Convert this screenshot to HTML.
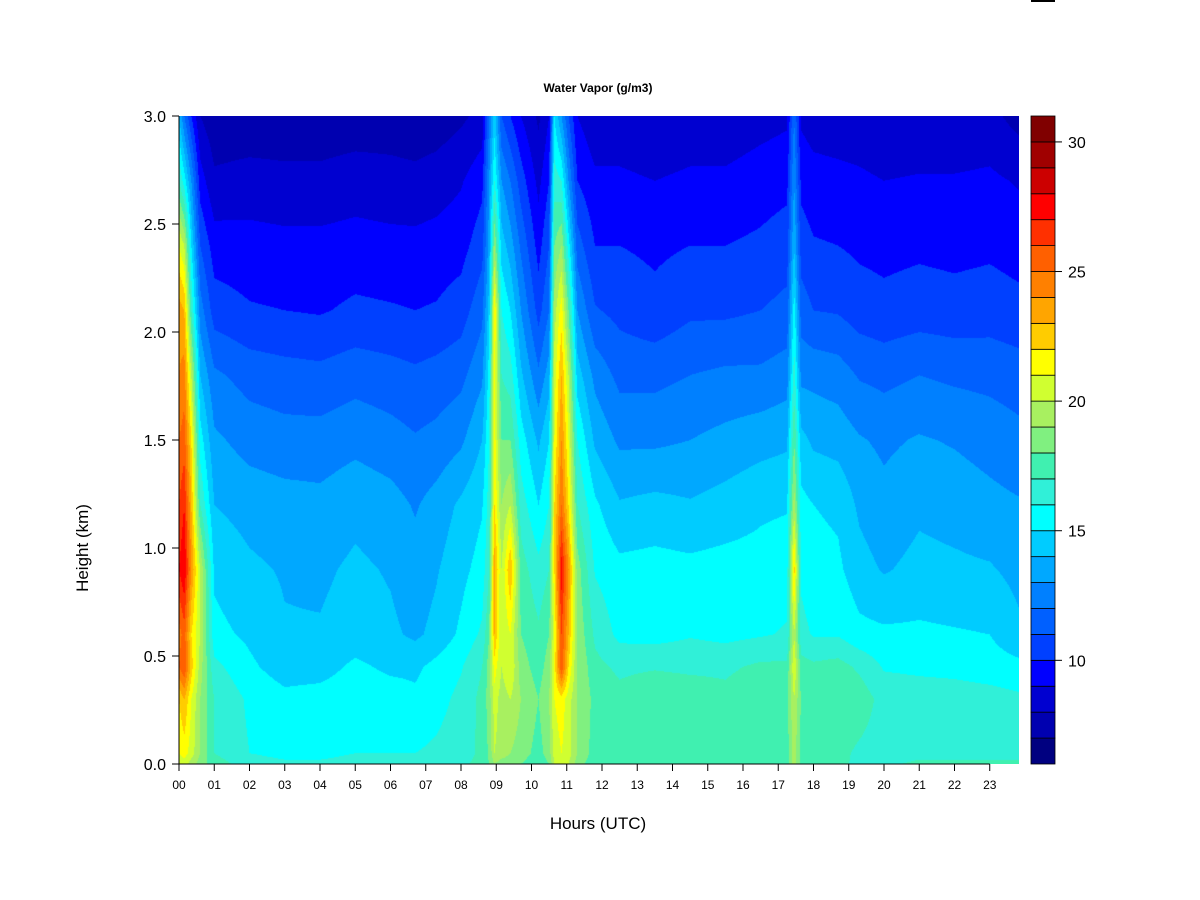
<!DOCTYPE html>
<html><head><meta charset="utf-8"><style>
body{margin:0;background:#fff;}
#wrap{position:relative;width:1200px;height:900px;overflow:hidden;font-family:"Liberation Sans",sans-serif;}
#heat{position:absolute;left:179px;top:116px;}
svg{position:absolute;left:0;top:0;}
</style></head><body>
<div id="wrap">
<canvas id="heat" width="840" height="648"></canvas>
<svg id="ov" width="1200" height="900">
<rect x="1031" y="0" width="24" height="2" fill="#000"/>
<text x="598" y="92" text-anchor="middle" font-size="12" font-weight="bold">Water Vapor (g/m3)</text>
<text x="598" y="829" text-anchor="middle" font-size="17">Hours (UTC)</text>
<text transform="translate(88,548) rotate(-90)" text-anchor="middle" font-size="17">Height (km)</text>
<g id="axes"></g>
</svg>
</div>
<script>
const heights = [0, 0.05, 0.3, 0.45, 0.6, 0.9, 1.2, 1.5, 1.8, 2.1, 2.4, 2.7, 3.0];
const times = [0,0.15,0.35,0.6,1,2,3,4,5,6,6.7,7.3,8,8.6,8.8,8.95,9.15,9.4,9.7,10.2,10.5,10.65,10.85,11.05,11.3,11.8,12.5,13.5,14.5,15.5,16.5,17.25,17.45,17.65,18,18.7,19.3,20,21,22,23,23.83];
const vapor = [
[20,21,22,25,24.5,27,26,25,24,23.5,21,17,14],
[20.5,21.5,23,26,25.5,28,27,25.5,24.5,23,20,15.5,12],
[19.5,20.5,21,22.5,22,24,23,22,20,17,15,13,10],
[18.5,19,19,19.5,20,20,17,15.5,14,12.5,11,9.5,8],
[17.5,17,17,16.3,15.3,14.8,14,13.2,12.2,10.5,9.5,8.2,7.3],
[16.5,16,15.8,15.2,14.8,14.2,13.6,12.6,11.6,10.1,9.4,8.4,7.3],
[16.2,15.7,15.3,14.5,14.1,13.9,13.4,12.4,11.4,10,9.3,8.3,7.3],
[16.2,15.7,15.4,14.6,14.1,13.8,13.3,12.4,11.3,9.9,9.3,8.3,7.3],
[16.4,16,15.6,15.2,14.5,14.2,13.7,12.7,11.6,10.2,9.4,8.5,7.4],
[16.4,16,15.5,14.8,14.2,13.9,13.4,12.4,11.4,10.1,9.3,8.4,7.4],
[16.2,16,15.2,14.8,13.8,13.4,12.9,12.1,11.2,10,9.3,8.3,7.3],
[16.4,16.2,15.6,15.3,14.3,13.9,13.4,12.3,11.4,10.1,9.4,8.5,7.4],
[16.8,16.6,16.3,15.9,15.2,14.7,14.2,12.8,11.7,10.5,9.6,8.9,7.8],
[17.3,17.2,17.3,17,16.2,15.4,14.9,14,12.8,11.7,10.6,9.7,8.3],
[18,18.2,18.5,18.5,18,17,16.5,16,15.5,14.5,13.5,13,12],
[19,20,20.5,21.5,23,23.5,22,21.5,21.5,22,19,16,14.5],
[18.5,19.5,19.5,20,20,20,19,18,17,16,14.5,13,11],
[18.5,19,20,21,21,23,20,18,16.5,15,13.5,12,10],
[18,18.5,19,18.5,18,17.5,16.5,15.5,14.2,13,11.8,10.5,9],
[17.3,17.6,18,17.5,17.2,16.3,15,13.8,12.2,10.6,9.6,8.7,7.8],
[18,18.5,19,18.5,18,17,16,15,13.5,12,11,10,9],
[20,20.5,21,21.5,21,22,22,21,20.5,19.5,18,16.5,15],
[20.5,21,21.5,26,26,27.5,25,24,23,21.5,19,16,13],
[20,20.5,20.5,22,23,24,22,21,20,18,15.5,13,11],
[18.5,19,19,19,18.8,18.5,17,16,14.5,13,11.5,10,9],
[17.3,17.5,17.7,17.3,16.8,15.9,15.2,13.8,12.7,11.1,10,9.2,8.3],
[17,17,17.3,16.8,15.7,15.3,14.1,12.8,11.7,10.7,10,9.2,8.3],
[17.1,17.3,17.8,16.9,15.6,15.4,14.3,12.8,11.7,10.3,9.8,9,8.1],
[17.1,17.2,17.6,16.8,15.9,15.3,14.1,13,12,10.8,10,9.2,8.3],
[17.2,17.2,17.3,16.8,15.7,15.4,14.4,13.3,12.2,10.8,10,9.2,8.3],
[17.6,17.6,17.8,17.2,15.9,15.4,14.8,13.6,12.2,11,10.2,9.5,8.6],
[17.5,17.5,17.7,17.2,16.1,15.6,14.9,13.8,12.5,11.3,10.5,9.7,8.8],
[19.5,19.5,20,21,20,22.5,19.5,18,16.5,15.5,14,13,12],
[17.6,17.6,17.9,17.4,16.3,15.8,15.3,14.3,12.7,11.5,10.5,9.7,8.8],
[17.2,17.2,17.5,17.2,15.9,15.4,15,13.8,12.7,11,10.1,9.4,8.5],
[17.2,17.3,17.9,17.4,15.9,15.2,14.8,13.6,12.5,10.9,10,9.3,8.4],
[16.8,16.8,17.6,16.8,15.3,14.4,13.8,13.1,11.9,10.5,9.8,9.2,8.3],
[16.8,16.5,16.6,15.9,15.2,13.9,13.3,12.8,11.7,10.3,9.7,9,8.1],
[17.2,16.7,16.5,15.8,15.2,14.3,13.8,13.1,12,10.5,9.8,9.1,8.2],
[17.2,16.7,16.5,15.7,15.1,14.2,13.6,12.9,11.8,10.4,9.7,9.1,8.2],
[17.2,16.7,16.4,15.5,15,14.1,13.3,12.6,11.7,10.5,9.8,9.2,8.3],
[17.2,16.7,16.2,15.3,14.2,13.7,13.1,12.3,11.5,10.3,9.6,8.9,7.6]
];
const yTickLabels = ["0.0","0.5","1.0","1.5","2.0","2.5","3.0"];
const yTickValues = [0,0.5,1,1.5,2,2.5,3];
const xTickLabels = ["00","01","02","03","04","05","06","07","08","09","10","11","12","13","14","15","16","17","18","19","20","21","22","23"];
const levelMin = 6, levelMax = 31;
const cbarTickValues = [10,15,20,25,30];
const bandColors = ["#000080","#0000B0","#0000D0","#0000FF","#0040FF","#0060FF","#0080FF","#00A8FF","#00CCFF","#00FFFF","#30F0D8","#40F0B0","#80F080","#A8F060","#D0FF30","#FFFF00","#FFCC00","#FFA500","#FF8000","#FF6000","#FF3000","#FF0000","#CC0000","#A00000","#800000"];

const PX0=179, PX1=1019, PY0=764, PY1=116, TMAX=23.83;
const xScale = t => PX0 + t/TMAX*(PX1-PX0);
const yScale = h => PY0 - h/3*(PY0-PY1);
const CB_X=1031, CB_W=24;
const cbScale = v => PY0 - (v-levelMin)/(levelMax-levelMin)*(PY0-PY1);

function hex(c){return [parseInt(c.substr(1,2),16),parseInt(c.substr(3,2),16),parseInt(c.substr(5,2),16)];}
const rgb = bandColors.map(hex);
function bracket(arr,v){let i=0;while(i<arr.length-2&&arr[i+1]<v)i++;const f=Math.max(0,Math.min(1,(v-arr[i])/(arr[i+1]-arr[i])));return [i,f];}

const cv=document.getElementById('heat'),ctx=cv.getContext('2d');
const W=cv.width,H=cv.height,img=ctx.createImageData(W,H);
const rowInfo=[];for(let py=0;py<H;py++){rowInfo.push(bracket(heights,(H-0.5-py)/H*3));}
for(let px=0;px<W;px++){
  const [ti,tf]=bracket(times,(px+0.5)/W*TMAX);
  for(let py=0;py<H;py++){
    const [hi,hf]=rowInfo[py];
    const a=vapor[ti][hi]*(1-hf)+vapor[ti][hi+1]*hf;
    const b=vapor[ti+1][hi]*(1-hf)+vapor[ti+1][hi+1]*hf;
    const v=a*(1-tf)+b*tf;
    let k=Math.floor(v-levelMin);k=Math.max(0,Math.min(24,k));
    const o=(py*W+px)*4;img.data[o]=rgb[k][0];img.data[o+1]=rgb[k][1];img.data[o+2]=rgb[k][2];img.data[o+3]=255;
  }
}
ctx.putImageData(img,0,0);

const NS="http://www.w3.org/2000/svg",g=document.getElementById('axes');
function mk(tag,attrs,txt){const e=document.createElementNS(NS,tag);for(const k in attrs)e.setAttribute(k,attrs[k]);if(txt!==undefined)e.textContent=txt;g.appendChild(e);return e;}
let e;
e=mk('line',{x1:PX0,y1:PY0,x2:xScale(23),y2:PY0,stroke:'#000','stroke-width':1});


e=mk('line',{x1:PX0,y1:PY0,x2:PX0,y2:PY1,stroke:'#000','stroke-width':1});


xTickLabels.forEach((l,i)=>{
  const x=xScale(i);
  e=mk('line',{x1:x,y1:PY0,x2:x,y2:PY0+7,stroke:'#000'});
  
  
  e=mk('text',{x:x,y:789,'text-anchor':'middle','font-size':12},l);
  
  
});
yTickValues.forEach((v,i)=>{
  const y=yScale(v);
  e=mk('line',{x1:PX0-7,y1:y,x2:PX0,y2:y,stroke:'#000'});
  
  
  e=mk('text',{x:166,y:y+6,'text-anchor':'end','font-size':16},yTickLabels[i]);
  
  
});
bandColors.forEach((c,i)=>{
  const y0=cbScale(levelMin+i+1),y1=cbScale(levelMin+i);
  e=mk('rect',{x:CB_X,y:y0,width:CB_W,height:y1-y0,fill:c,stroke:'#000','stroke-width':0.8});
  
  
});
cbarTickValues.forEach(v=>{
  const y=cbScale(v);
  e=mk('line',{x1:CB_X+CB_W,y1:y,x2:CB_X+CB_W+7,y2:y,stroke:'#000'});
  
  
  e=mk('text',{x:1068,y:y+6,'font-size':16},String(v));
  
  
});
</script>
</body></html>
